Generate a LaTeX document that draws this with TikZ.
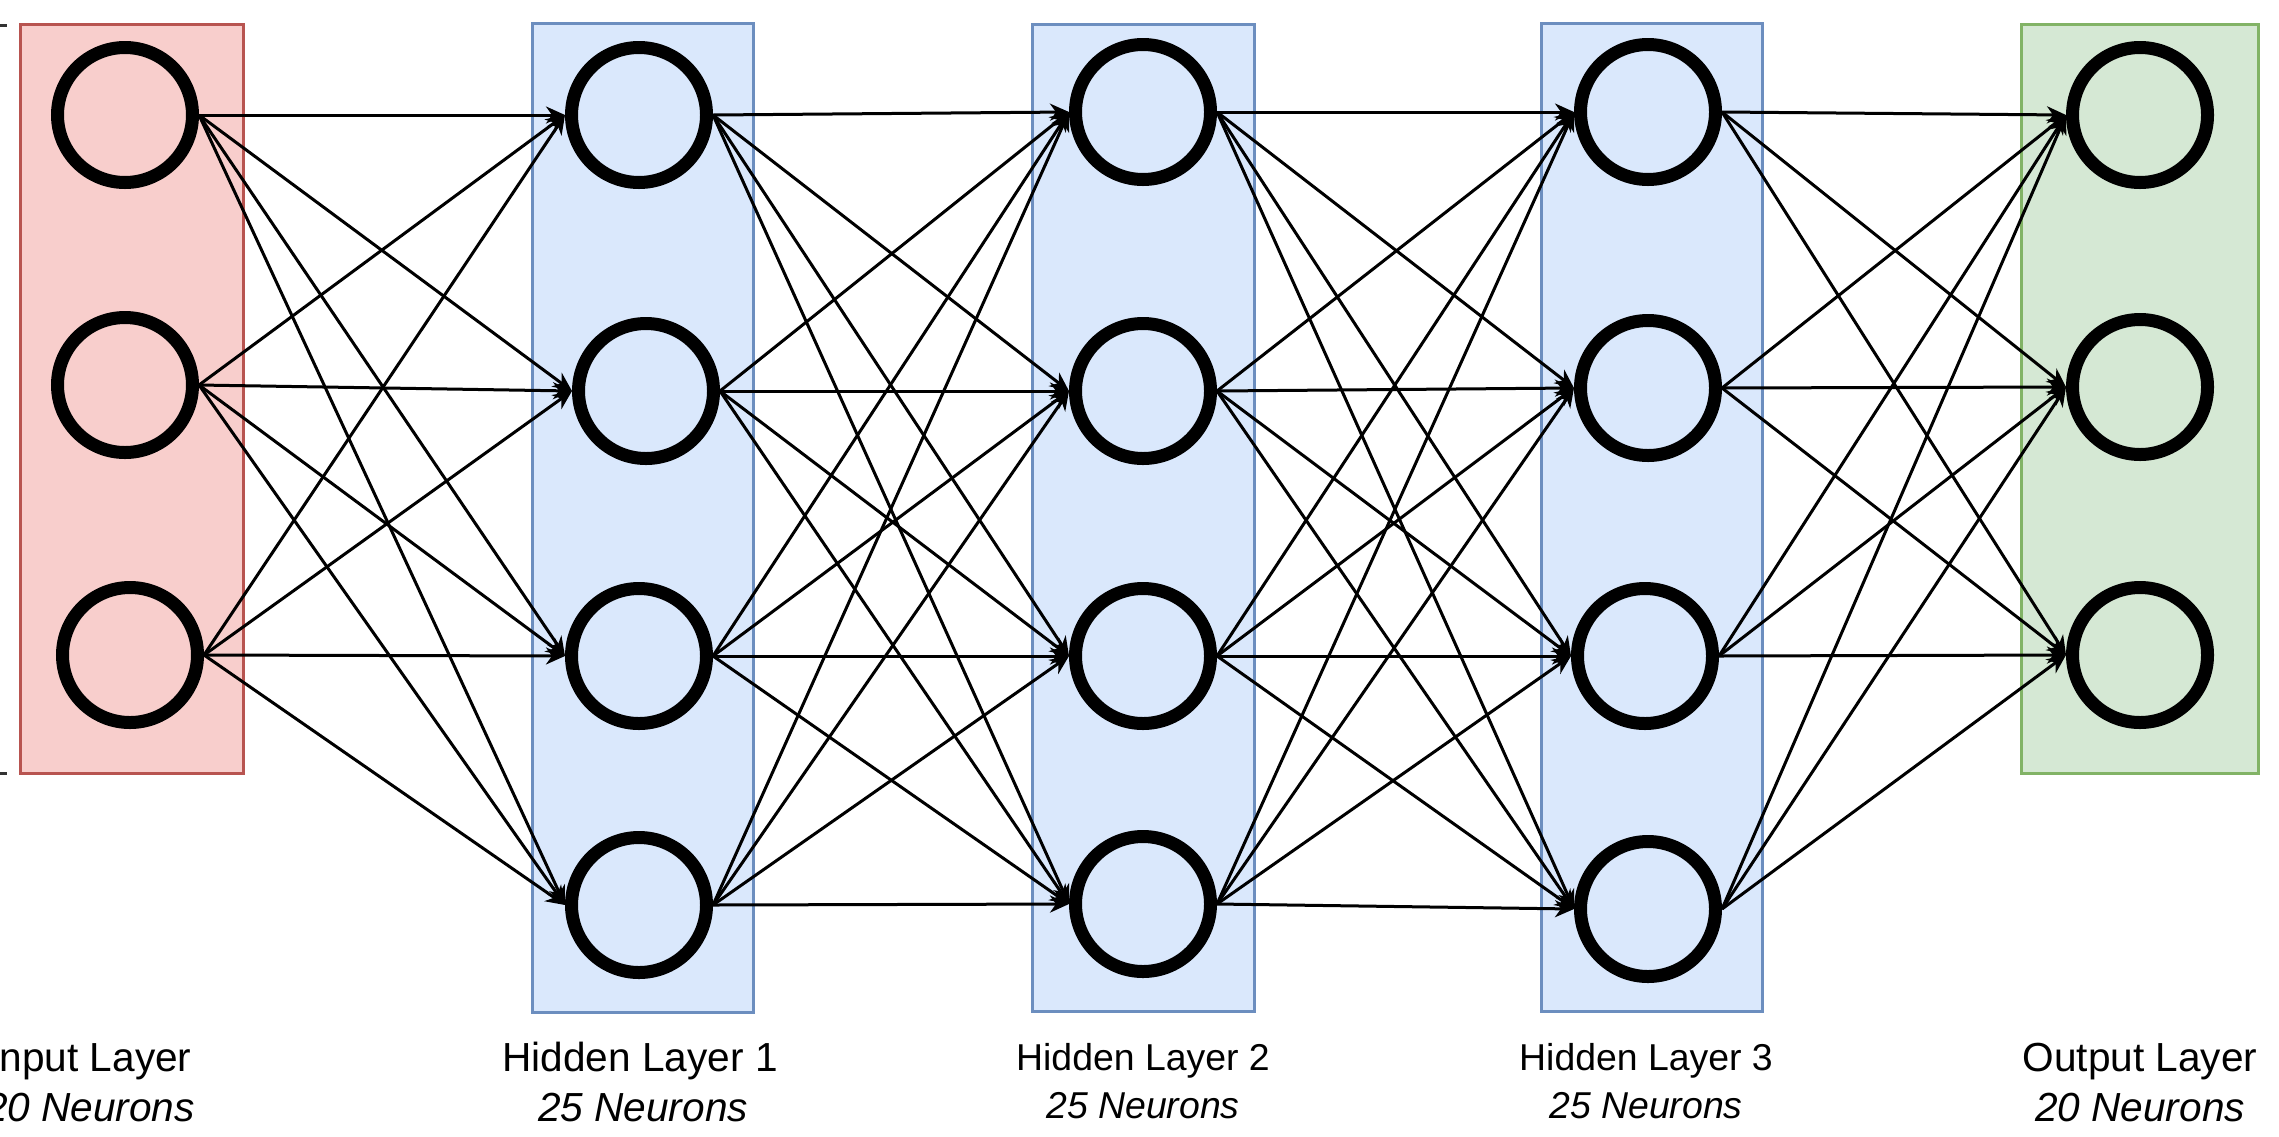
\documentclass[tikz,border=0pt]{standalone}
\usepackage{fontspec}
\setmainfont{Liberation Sans}
\usetikzlibrary{arrows.meta}
\definecolor{inred}{HTML}{F8CECC}
\definecolor{inredline}{HTML}{B85450}
\definecolor{hidblue}{HTML}{DAE8FC}
\definecolor{hidblueline}{HTML}{6C8EBF}
\definecolor{outgreen}{HTML}{D5E8D4}
\definecolor{outgreenline}{HTML}{82B366}

\begin{document}
\begin{tikzpicture}[
  x=0.5pt, y=-0.5pt,
  >={Stealth[length=9.5pt, width=8.5pt, inset=3pt]},
  neuron/.style={circle, draw=black, line width=6.5pt, minimum size=67.5pt, inner sep=0pt},
  wire/.style={->, line width=1.5pt},
  layerbox/.style={line width=1.5pt},
  biglabel/.style={anchor=base, font=\fontsize{20.3pt}{24pt}\selectfont},
  smalllabel/.style={anchor=base, font=\fontsize{18.7pt}{22pt}\selectfont},
]

\useasboundingbox (0,0) rectangle (2279,1136);

% Layer boxes
\draw[inredline, fill=inred, layerbox] (20,24) rectangle (243,773);
\draw[hidblueline, fill=hidblue, layerbox] (532,23) rectangle (753,1012);
\draw[hidblueline, fill=hidblue, layerbox] (1032,24) rectangle (1254,1011);
\draw[hidblueline, fill=hidblue, layerbox] (1541,23) rectangle (1762,1011);
\draw[outgreenline, fill=outgreen, layerbox] (2021,24) rectangle (2258,773);

% Ticks at the left edge
\draw[black!80, line width=1.5pt] (0,25) -- (7,25);
\draw[black!80, line width=1.5pt] (0,773) -- (7,773);

% Input layer
\node[neuron] (in1) at (125,115) {};
\node[neuron] (in2) at (125,385) {};
\node[neuron] (in3) at (130,655) {};

% Hidden layer 1
\node[neuron] (ha1) at (639,115) {};
\node[neuron] (ha2) at (646,391) {};
\node[neuron] (ha3) at (639,656) {};
\node[neuron] (ha4) at (639,905) {};

% Hidden layer 2
\node[neuron] (hb1) at (1143,112) {};
\node[neuron] (hb2) at (1143,391) {};
\node[neuron] (hb3) at (1143,656) {};
\node[neuron] (hb4) at (1143,904) {};

% Hidden layer 3
\node[neuron] (hc1) at (1648,112) {};
\node[neuron] (hc2) at (1648,388) {};
\node[neuron] (hc3) at (1645,656) {};
\node[neuron] (hc4) at (1648,909) {};

% Output layer
\node[neuron] (out1) at (2140,115) {};
\node[neuron] (out2) at (2140,387) {};
\node[neuron] (out3) at (2140,655) {};

% Connections
\foreach \a in {1,2,3}
  \foreach \b in {1,...,4}
    \draw[wire] (in\a.east) -- (ha\b.west);
\foreach \a in {1,...,4}
  \foreach \b in {1,...,4}
    \draw[wire] (ha\a.east) -- (hb\b.west);
\foreach \a in {1,...,4}
  \foreach \b in {1,...,4}
    \draw[wire] (hb\a.east) -- (hc\b.west);
\foreach \a in {1,...,4}
  \foreach \b in {1,2,3}
    \draw[wire] (hc\a.east) -- (out\b.west);

% Labels
\node[biglabel] (inname) at (90,1071) {Input Layer};
\node[biglabel, font=\fontsize{20.3pt}{24pt}\selectfont\itshape] (insize) at (90,1121) {20 Neurons};
\node[biglabel] (haname) at (640,1071) {Hidden Layer 1};
\node[biglabel, font=\fontsize{20.3pt}{24pt}\selectfont\itshape] (hasize) at (643,1121) {25 Neurons};
\node[smalllabel] (hbname) at (1143,1070) {Hidden Layer 2};
\node[smalllabel, font=\fontsize{18.7pt}{22pt}\selectfont\itshape] (hbsize) at (1143,1118) {25 Neurons};
\node[smalllabel] (hcname) at (1646,1070) {Hidden Layer 3};
\node[smalllabel, font=\fontsize{18.7pt}{22pt}\selectfont\itshape] (hcsize) at (1646,1118) {25 Neurons};
\node[biglabel] (outname) at (2140,1071) {Output Layer};
\node[biglabel, font=\fontsize{20.3pt}{24pt}\selectfont\itshape] (outsize) at (2140,1121) {20 Neurons};

\end{tikzpicture}
\end{document}
